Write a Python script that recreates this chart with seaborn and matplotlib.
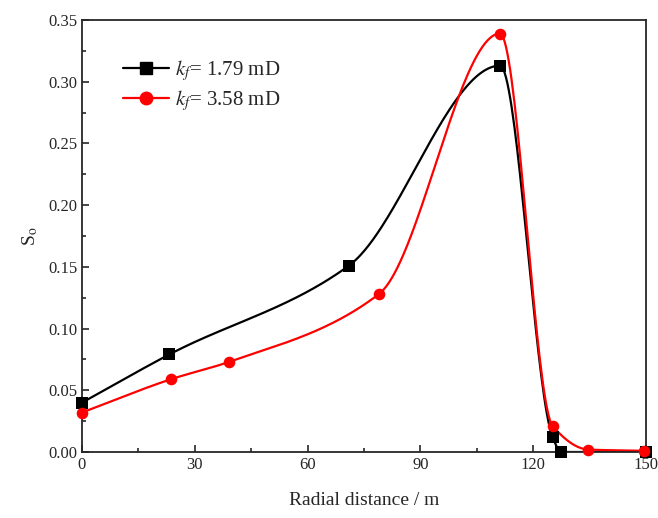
import numpy as np
import matplotlib
matplotlib.use('Agg')
import matplotlib.pyplot as plt
from matplotlib.lines import Line2D
from matplotlib.ticker import MultipleLocator, FormatStrFormatter
import seaborn as sns

# data
x_k179 = [0, 23.2, 71.0, 111.2, 125.2, 127.5, 150]
s_k179 = [0.040, 0.079, 0.151, 0.313, 0.012, 0.000, 0.000]
x_k358 = [0, 23.7, 39.1, 79.0, 111.2, 125.2, 134.7, 149.5]
s_k358 = [0.032, 0.059, 0.073, 0.128, 0.339, 0.021, 0.002, 0.001]
labels = [r'$k_f$= 1.79 mD', r'$k_f$= 3.58 mD']


def pchip(x, y, n=400):
    # shape preserving cubic, used only to draw the smooth connecting line
    x = np.asarray(x, float)
    y = np.asarray(y, float)
    h = np.diff(x)
    d = np.diff(y) / h
    m = np.zeros_like(y)
    for k in range(1, len(x) - 1):
        if d[k - 1] * d[k] > 0:
            w1 = 2 * h[k] + h[k - 1]
            w2 = h[k] + 2 * h[k - 1]
            m[k] = (w1 + w2) / (w1 / d[k - 1] + w2 / d[k])
    m[0] = d[0]
    m[-1] = d[-1]
    xs = np.linspace(x[0], x[-1], n)
    idx = np.clip(np.searchsorted(x, xs) - 1, 0, len(x) - 2)
    t = (xs - x[idx]) / h[idx]
    h00 = 2 * t**3 - 3 * t**2 + 1
    h10 = t**3 - 2 * t**2 + t
    h01 = -2 * t**3 + 3 * t**2
    h11 = t**3 - t**2
    ys = h00 * y[idx] + h10 * h[idx] * m[idx] + h01 * y[idx + 1] + h11 * h[idx] * m[idx + 1]
    return xs, ys


sns.set_style('ticks')
plt.rcParams['font.family'] = ['Liberation Serif', 'DejaVu Serif']
plt.rcParams['mathtext.fontset'] = 'stix'

fig = plt.figure(figsize=(6.58, 5.18), dpi=100)
ax = fig.add_axes([0.1246, 0.1274, 0.857, 0.834])

series = [(x_k179, s_k179, 'black', 's'), (x_k358, s_k358, 'red', 'o')]
for xv, yv, col, mk in series:
    xs, ys = pchip(xv, yv)
    sns.lineplot(x=xs, y=ys, color=col, linewidth=1.6, ax=ax, sort=False)
    sns.scatterplot(x=xv, y=yv, color=col, marker=mk, s=70, edgecolor=col,
                    linewidth=0, ax=ax, zorder=3, clip_on=False)

ax.set_xlim(0, 150)
ax.set_ylim(0, 0.35)
ax.xaxis.set_major_locator(MultipleLocator(30))
ax.xaxis.set_minor_locator(MultipleLocator(15))
ax.yaxis.set_major_locator(MultipleLocator(0.05))
ax.yaxis.set_minor_locator(MultipleLocator(0.025))
ax.yaxis.set_major_formatter(FormatStrFormatter('%.2f'))
ax.tick_params(which='both', direction='in', top=False, right=False,
               labelsize=12, width=1.2)
ax.tick_params(which='major', length=5)
ax.tick_params(which='minor', length=3)
for sp in ax.spines.values():
    sp.set_linewidth(1.3)

ax.set_xlabel('Radial distance / m', fontsize=14, labelpad=14)
ax.set_ylabel(r'S$_\mathrm{o}$', fontsize=14, labelpad=6)

handles = [Line2D([], [], color='black', marker='s', markersize=8, lw=1.6),
           Line2D([], [], color='red', marker='o', markersize=9, lw=1.6)]
ax.legend(handles, labels, loc='upper left', bbox_to_anchor=(0.04, 0.955),
          frameon=False, fontsize=15, handlelength=2.2, handletextpad=0.3,
          labelspacing=0.25)

fig.savefig('out.png', dpi=100)
